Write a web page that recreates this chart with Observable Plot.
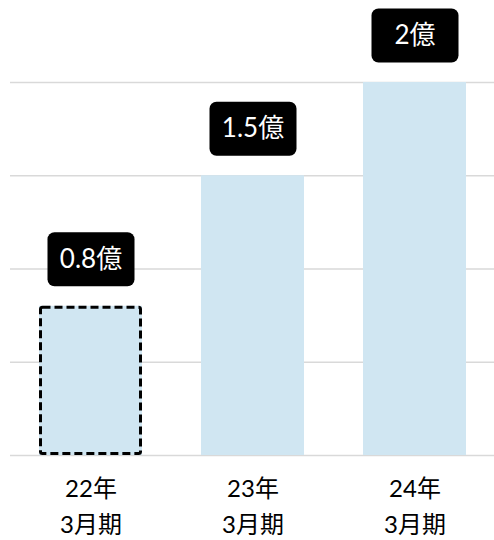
<!DOCTYPE html>
<html>
<head>
<meta charset="utf-8">
<script src="https://cdn.jsdelivr.net/npm/d3@7"></script>
<script src="https://cdn.jsdelivr.net/npm/@observablehq/plot@0.6"></script>
<style>
  body { margin: 0; background: #fff; }
</style>
</head>
<body>
<div id="chart"></div>
<script>
const periods = ["22年\n3月期", "23年\n3月期", "24年\n3月期"];
const values = [0.8, 1.5, 2];
const valueLabels = ["0.8億", "1.5億", "2億"];
const estimated = [true, false, false];
const gridTicks = [0, 0.5, 1, 1.5, 2];

const data = periods.map((p, i) => ({period: p, value: values[i], label: valueLabels[i], est: estimated[i]}));

const roundedBox = {
  draw(context) {
    const w = 87, h = 54, r = 7;
    const x0 = -w / 2, x1 = w / 2, y0 = -h / 2, y1 = h / 2;
    context.moveTo(x0 + r, y0);
    context.lineTo(x1 - r, y0);
    context.arcTo(x1, y0, x1, y0 + r, r);
    context.lineTo(x1, y1 - r);
    context.arcTo(x1, y1, x1 - r, y1, r);
    context.lineTo(x0 + r, y1);
    context.arcTo(x0, y1, x0, y1 - r, r);
    context.lineTo(x0, y0 + r);
    context.arcTo(x0, y0, x0 + r, y0, r);
    context.closePath();
  }
};

const font = "Lato, 'Noto Sans CJK JP', sans-serif";

const chart = Plot.plot({
  width: 494,
  height: 540,
  marginLeft: 10,
  marginRight: 0,
  marginTop: 82,
  marginBottom: 85,
  style: {fontFamily: font, background: "#fff"},
  x: {domain: periods, paddingInner: 0.366, paddingOuter: 0.1755, axis: null},
  y: {domain: [0, 2], axis: null},
  marks: [
    Plot.ruleY(gridTicks, {stroke: "#d9d9d9", strokeWidth: 1.5}),
    Plot.barY(data, {x: "period", y: "value", fill: "#d0e6f2"}),
    Plot.barY(data.filter(d => d.est), {x: "period", y: "value", fill: "none", stroke: "#000", strokeWidth: 3, strokeDasharray: "8,4", inset: 1.5, rx: 2}),
    Plot.dot(data, {x: "period", y: "value", symbol: roundedBox, fill: "#000", stroke: "none", dy: -47}),
    Plot.text(data, {x: "period", y: "value", text: "label", fill: "#fff", fontSize: 26, dy: -47, lineAnchor: "middle"}),
    Plot.axisX({tickSize: 0, tickPadding: 16, fontSize: 24, lineHeight: 1.5, fill: "#000", label: null})
  ]
});
document.getElementById("chart").appendChild(chart);
</script>
</body>
</html>
